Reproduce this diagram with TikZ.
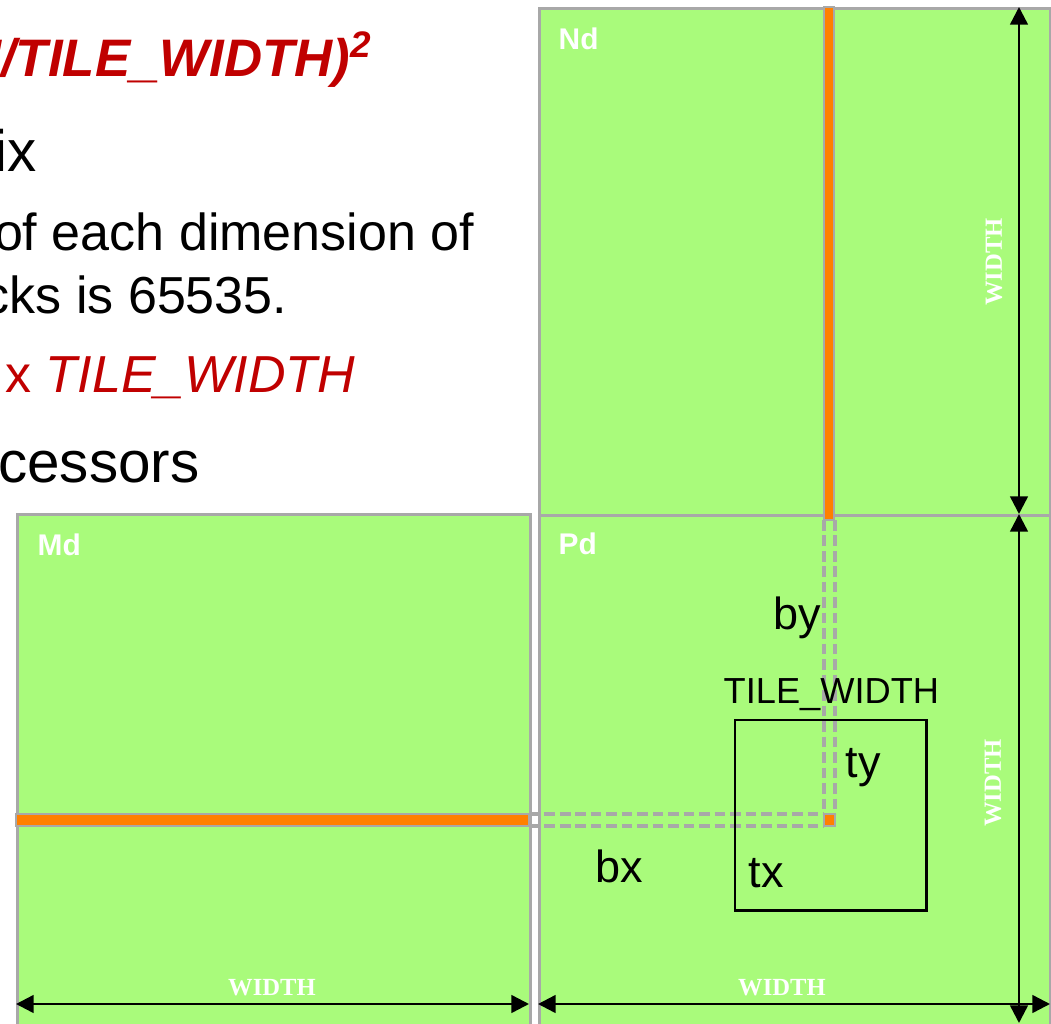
\documentclass[tikz,border=0pt]{standalone}
\usepackage{fontspec}
\setmainfont{Liberation Sans}
\newfontfamily\dimfont{Liberation Serif}
\usetikzlibrary{arrows.meta, positioning}
\definecolor{tileGreen}{HTML}{A9FB7B}
\definecolor{tileOrange}{HTML}{FF8000}
\definecolor{tileGray}{HTML}{A8A8A8}
\definecolor{slideRed}{HTML}{C00000}

\begin{document}
\begin{tikzpicture}[
    x=0.01cm, y=-0.01cm,
    mat/.style={rectangle, draw=tileGray, fill=tileGreen, line width=0.9pt,
                anchor=north west, inner sep=0pt, minimum width=5.11cm},
    strip/.style={draw=tileGray, fill=tileOrange, line width=0.6pt},
    guide/.style={draw=tileGray, line width=0.9pt, dash pattern=on 3pt off 1.4pt},
    tilebox/.style={rectangle, draw=black, line width=0.7pt, anchor=north west,
                inner sep=0pt, minimum width=1.91cm, minimum height=1.90cm},
    dimarrow/.style={draw=black, line width=0.7pt,
                {Triangle[length=5pt, width=5pt]}-{Triangle[length=5pt, width=5pt]}},
    dimlabel/.style={text=white, font=\dimfont\bfseries\fontsize{7pt}{8pt}\selectfont, inner sep=0pt},
    matname/.style={text=white, font=\bfseries\fontsize{8.5pt}{10pt}\selectfont,
                anchor=base west, inner sep=0pt},
    idx/.style={font=\fontsize{12.8pt}{15pt}\selectfont, anchor=base west, inner sep=0pt},
    bullet/.style={font=\fontsize{16.6pt}{20pt}\selectfont, anchor=base east, inner sep=0pt},
    subbullet/.style={font=\fontsize{14.8pt}{18pt}\selectfont, anchor=base east, inner sep=0pt},
  ]
    \useasboundingbox (0,0) rectangle (1051,1024);
    \clip (0,0) rectangle (1051,1024);

    % slide text cut at the left edge
    \node[subbullet, text=slideRed, font=\bfseries\itshape\fontsize{15pt}{18pt}\selectfont]
      (t1) at (373,76) {H/TILE\_WIDTH)\textsuperscript{2}};
    \node[bullet] (t2) at (37,171) {ix};
    \node[subbullet] (t3) at (475,250) {of each dimension of};
    \node[subbullet] (t4) at (288,313) {cks is 65535.};
    \node[subbullet, text=slideRed] (t5) at (356,392) {x \textit{TILE\_WIDTH}};
    \node[bullet] (t6) at (200,482) {cessors};

    % matrices
    \node[mat, minimum height=5.07cm] (Nd) at (538,7) {};
    \node[mat, minimum height=5.20cm] (Pd) at (538,514) {};
    \node[mat, minimum width=5.13cm, minimum height=5.20cm] (Md) at (16,513) {};

    % row of Md, column of Nd
    \draw[strip] (824,7) rectangle (834,520);
    \draw[strip] (16,814) rectangle (529,826);

    \draw[guide] (824,520) -- (824,814);
    \draw[guide] (835,520) -- (835,814);
    \draw[guide] (529,814) -- (824,814);
    \draw[guide] (529,826) -- (824,826);
    \draw[strip] (824,814) rectangle (835,826);

    \node[tilebox] (tile) at (734,719) {};

    \node[matname] (ndname) at (558,49) {Nd};
    \node[matname] (mdname) at (37,555) {Md};
    \node[matname] (pdname) at (558,554) {Pd};

    \node[idx] (by) at (773,629) {by};
    \node[idx, font=\fontsize{10.3pt}{12pt}\selectfont] (tw) at (723,703) {TILE\_WIDTH};
    \node[idx] (ty) at (845,777) {ty};
    \node[idx] (bx) at (595,882) {bx};
    \node[idx] (tx) at (748,887) {tx};

    % dimensions
    \coordinate (vtop) at (1019,7);
    \coordinate (vmid) at (1019,514);
    \coordinate (vbot) at (1019,1023);
    \coordinate (mleft) at (16,1004);
    \coordinate (mright) at (529,1004);
    \coordinate (pleft) at (538,1004);
    \coordinate (pright) at (1050,1004);
    \draw[dimarrow] (vtop) -- (vmid);
    \draw[dimarrow] (vmid) -- (vbot);
    \draw[dimarrow] (mleft) -- (mright);
    \draw[dimarrow] (pleft) -- (pright);

    \node[dimlabel, rotate=90] (ndw) at (994,262) {WIDTH};
    \node[dimlabel, rotate=90] (pdw) at (993,783) {WIDTH};
    \node[dimlabel] (mdw) at (272,988) {WIDTH};
    \node[dimlabel] (pdh) at (782,988) {WIDTH};
  \end{tikzpicture}
\end{document}
